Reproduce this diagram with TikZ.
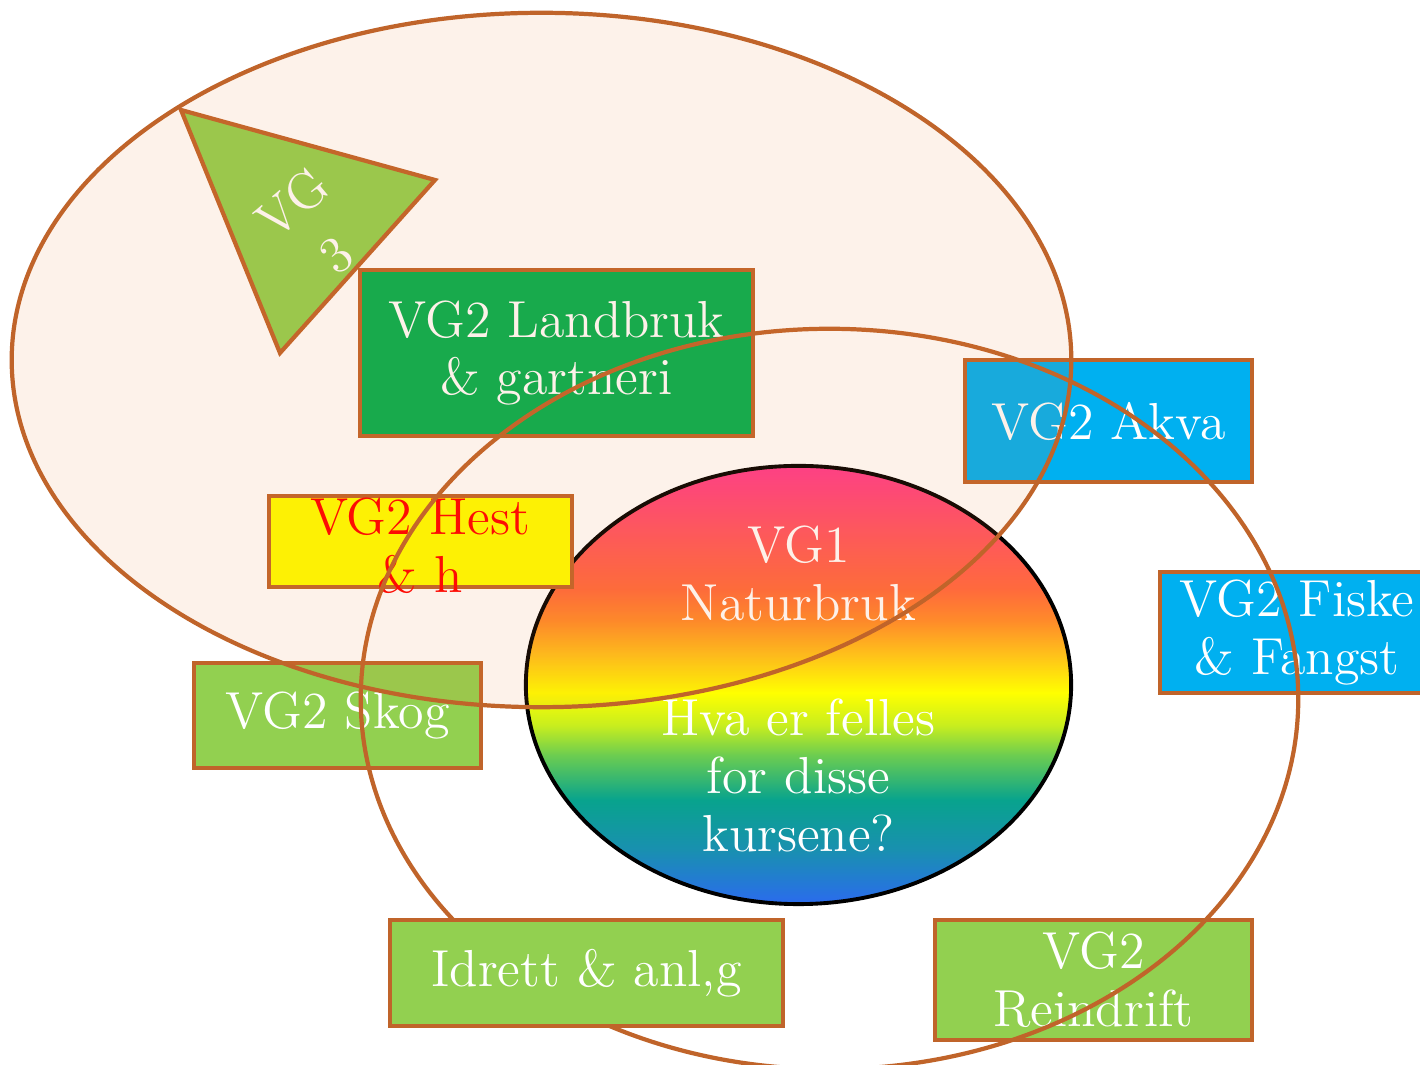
\documentclass[tikz,border=0pt]{standalone}
\usetikzlibrary{shapes.geometric}
\definecolor{edge}{RGB}{192,100,42}
\definecolor{grnA}{HTML}{00B050}
\definecolor{grnB}{HTML}{92D050}
\definecolor{blu}{HTML}{00B0F0}
\definecolor{peach}{HTML}{ED7D31}
\definecolor{hestyel}{HTML}{FFFF00}
\definecolor{rA}{HTML}{2B6BEE}
\definecolor{rB}{HTML}{1990B0}
\definecolor{rC}{HTML}{08A38D}
\definecolor{rD}{HTML}{6CCD50}
\definecolor{rE}{HTML}{C8EE1E}
\definecolor{rF}{HTML}{FFFF00}
\definecolor{rG}{HTML}{FFC21A}
\definecolor{rH}{HTML}{FF8A2A}
\definecolor{rI}{HTML}{FF6A3C}
\definecolor{rJ}{HTML}{FF5A58}
\definecolor{rK}{HTML}{FF3A8F}
\pgfdeclareverticalshading{rainbow}{100bp}{color(0bp)=(rA); color(25bp)=(rA); color(31.2bp)=(rB); color(36.9bp)=(rC); color(42bp)=(rD); color(45.4bp)=(rE); color(49.1bp)=(rF); color(53.4bp)=(rG); color(57.4bp)=(rH); color(60.9bp)=(rI); color(66bp)=(rJ); color(75bp)=(rK); color(100bp)=(rK)}
\begin{document}
\begin{tikzpicture}[x=0.01cm,y=-0.01cm,
  txt/.style={align=center, text=white, inner sep=0pt, font=\fontsize{14.8}{16.4}\selectfont},
  box/.style={txt, draw=edge, line width=1.2pt},
  ring/.style={draw=edge, line width=1.2pt, ellipse, inner sep=0pt}]
\useasboundingbox (0,0) rectangle (1420,1065);
% central rainbow ellipse
\node[ellipse, draw=black, line width=1.1pt, shade, shading=rainbow, inner sep=0pt,
      minimum width=5.45cm, minimum height=4.38cm] (core) at (798.5,685) {};
\node[txt] (coretext) at (798.5,689) {VG1\\Naturbruk\\[16.4pt]Hva er felles\\for disse\\kursene?};
% triangle VG3
\draw[draw=edge, line width=1.2pt, fill=grnB] (181,110) -- (435,180) -- (280,353) -- cycle;
\node[txt, rotate=40] (vg3) at (314,229) {VG\\[3pt]3};
% boxes
\node[box, fill=grnA, minimum width=3.93cm, minimum height=1.66cm] (land) at (556.5,353) {VG2 Landbruk\\\& gartneri};
\node[box, fill=blu, minimum width=2.87cm, minimum height=1.22cm] (akva) at (1108.5,421) {VG2 Akva};
\node[box, fill=hestyel, minimum width=3.03cm, minimum height=0.91cm] (hest) at (420.5,541.5) {};
\node[txt, text=red] (hesttext) at (420,546) {VG2 Hest\\\& h};
\node[box, fill=blu, minimum width=2.74cm, minimum height=1.21cm] (fiske) at (1297,632.5) {VG2 Fiske\\\& Fangst};
\node[box, fill=grnB, minimum width=2.87cm, minimum height=1.05cm] (skog) at (337.5,715.5) {VG2 Skog};
\node[box, fill=grnB, minimum width=3.17cm, minimum height=1.2cm] (rein) at (1093.5,980) {VG2\\Reindrift};
% lower ring
\node[ring, minimum width=9.37cm, minimum height=7.4cm] (lower) at (829.5,699) {};
% Idrett box above lower ring
\node[box, fill=grnB, minimum width=3.93cm, minimum height=1.06cm] (idrett) at (586.5,973) {Idrett \& anl,g};
% upper ring with translucent fill
\node[ring, fill=peach, fill opacity=0.1, minimum width=10.59cm, minimum height=6.94cm] (upper) at (541.5,360) {};
\end{tikzpicture}
\end{document}
